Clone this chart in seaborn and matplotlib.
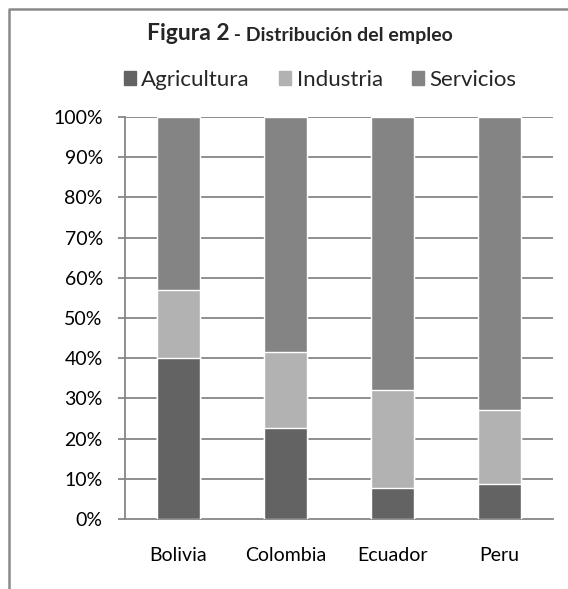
import numpy as np
import pandas as pd
import seaborn as sns
import matplotlib.pyplot as plt
from matplotlib.lines import Line2D
from matplotlib.patches import Patch

# data (percent of employment)
paises = ["Bolivia", "Colombia", "Ecuador", "Peru"]
agricultura = [40.0, 22.7, 7.8, 8.8]
industria = [17.0, 18.8, 24.2, 18.2]
servicios = [43.0, 58.5, 68.0, 73.0]
y_ticks = [0, 10, 20, 30, 40, 50, 60, 70, 80, 90, 100]

col_agri = "#636363"
col_ind = "#b2b2b2"
col_serv = "#848484"
grid_col = "#868686"

sns.set_theme(style="white")
plt.rcParams["font.family"] = ["Lato", "DejaVu Sans"]

df = pd.DataFrame({"pais": paises, "agri": agricultura,
                   "ind": industria, "serv": servicios})
df["top_ind"] = df["agri"] + df["ind"]
df["top_serv"] = df["top_ind"] + df["serv"]

W, H = 568, 589
fig = plt.figure(figsize=(W / 100, H / 100), dpi=100)
ax = fig.add_axes([125 / W, 70 / H, 428 / W, 402 / H])

# stacked bars: draw the tallest layer first
sns.barplot(data=df, x="pais", y="top_serv", color=col_serv, width=0.4,
            saturation=1, ax=ax, zorder=3)
sns.barplot(data=df, x="pais", y="top_ind", color=col_ind, width=0.4,
            saturation=1, ax=ax, zorder=3)
sns.barplot(data=df, x="pais", y="agri", color=col_agri, width=0.4,
            saturation=1, ax=ax, zorder=3)

ax.set_xlim(-0.5, 3.5)
ax.set_ylim(0, 100)
ax.set_yticks(y_ticks)
ax.set_yticklabels([f"{v}%" for v in y_ticks])
ax.set_xlabel("")
ax.set_ylabel("")

for v in y_ticks[1:]:
    ax.axhline(v, color=grid_col, lw=1.3, zorder=1)

for s in ["top", "right"]:
    ax.spines[s].set_visible(False)
for s in ["left", "bottom"]:
    ax.spines[s].set_color(grid_col)
    ax.spines[s].set_linewidth(1.3)

ax.set_xticks(np.arange(-0.5, 4, 1), minor=True)
ax.tick_params(axis="x", which="major", length=0, pad=20, labelsize=14,
               colors="black")
ax.tick_params(axis="x", which="minor", length=4, width=1.3,
               color=grid_col, direction="out")
ax.tick_params(axis="y", length=5, width=1.3, color=grid_col,
               direction="out", labelsize=14, pad=11, left=True)
for lab in ax.get_yticklabels() + ax.get_xticklabels():
    lab.set_color("black")

# title in two sizes
fig.canvas.draw()
r = fig.canvas.get_renderer()
t1 = fig.text(0, 1 - 34 / H, "Figura 2", fontsize=16.5, fontweight="bold",
              va="center", ha="left")
t2 = fig.text(0, 1 - 34 / H, " - Distribución del empleo", fontsize=14,
              fontweight="bold", va="center", ha="left")
w1 = t1.get_window_extent(r).width
w2 = t2.get_window_extent(r).width
x0 = 300 - (w1 + w2) / 2
t1.set_x(x0 / W)
t2.set_x((x0 + w1) / W)
t2.set_y(1 - 35.5 / H)

handles = [Patch(color=col_agri, label="Agricultura"),
           Patch(color=col_ind, label="Industria"),
           Patch(color=col_serv, label="Servicios")]
fig.legend(handles=handles, loc="center", bbox_to_anchor=(320 / W, 1 - 80 / H),
           ncol=3, frameon=False, fontsize=16, handlelength=0.55,
           handleheight=0.55, handletextpad=0.25, columnspacing=1.3,
           borderaxespad=0)

# outer chart-area frame (cut off at right and bottom)
fig.add_artist(Line2D([8.5 / W, 8.5 / W, 1], [0, 1 - 8.5 / H, 1 - 8.5 / H],
                      transform=fig.transFigure, color="#8a8a8a", lw=1.8))

fig.savefig("out.png", dpi=100)
